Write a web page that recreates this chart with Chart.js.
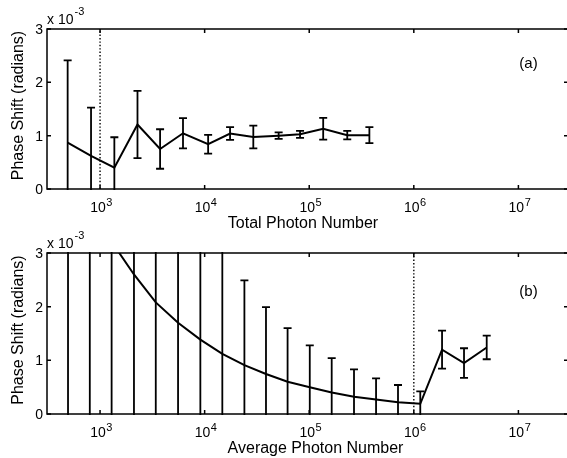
<!DOCTYPE html>
<html>
<head>
<meta charset="utf-8">
<script src="https://cdn.jsdelivr.net/npm/chart.js@4.4.1/dist/chart.umd.min.js"></script>
<style>
  html, body { margin: 0; padding: 0; background: #fff; overflow: hidden; }
  canvas { display: block; }
</style>
</head>
<body>
<canvas id="chart-a" width="575" height="229"></canvas>
<canvas id="chart-b" width="575" height="229"></canvas>
<script>
// ==========================================
// A. DATA  (phase shift in units of 1e-3 rad)
// ==========================================

// (a) vs total photon number
const totalPhotons = [490, 820, 1370, 2280, 3750, 6210, 10800, 17500, 29200, 51000, 81700, 136000, 231000, 376000];
const phaseA = [0.87, 0.62, 0.40, 1.21, 0.75, 1.045, 0.84, 1.04, 0.975, 1.00, 1.025, 1.13, 1.01, 1.01];
const errA   = [1.54, 0.905, 0.57, 0.63, 0.37, 0.285, 0.175, 0.12, 0.215, 0.06, 0.065, 0.205, 0.08, 0.15];

// (b) vs average photon number
const avgPhotons = [494, 798, 1290, 2110, 3410, 5570, 9100, 14760, 24000, 38600, 62100, 101200, 164000, 268000, 435500, 706000, 1153000, 1862000, 3020000, 4977000];
const phaseB = [4.89, 3.96, 3.21, 2.60, 2.08, 1.70, 1.385, 1.12, 0.91, 0.745, 0.60, 0.50, 0.40, 0.32, 0.27, 0.22, 0.19, 1.20, 0.95, 1.24];
const errB   = [8.5, 6.9, 5.6, 4.5, 3.6, 2.95, 2.4, 1.95, 1.58, 1.245, 1.0, 0.78, 0.64, 0.51, 0.395, 0.32, 0.23, 0.355, 0.275, 0.22];

// axes
const xTickExps = [3, 4, 5, 6, 7];
const yTicks = [0, 1, 2, 3];
const xMin = 311, xMax = 2.98e7;
const yMin = 0, yMax = 3;
const limitA = 1e3;   // dotted line in (a)
const limitB = 1e6;   // dotted line in (b)

const FONT = '"Liberation Sans", Arial, Helvetica, sans-serif';

// ==========================================
// B. PLUGINS (error bars + MATLAB style frame)
// ==========================================

const errorBarPlugin = {
    id: 'errorBars',
    afterDatasetsDraw(chart, args, opts) {
        const { ctx, chartArea: a, scales: { x, y } } = chart;
        ctx.save();
        ctx.beginPath();
        ctx.rect(a.left, a.top - 1, a.right - a.left, a.bottom - a.top + 2);
        ctx.clip();
        ctx.strokeStyle = '#000';
        ctx.lineWidth = 1.8;
        opts.xs.forEach((xv, i) => {
            const px = x.getPixelForValue(xv);
            const lo = y.getPixelForValue(opts.ys[i] - opts.errs[i]);
            const hi = y.getPixelForValue(opts.ys[i] + opts.errs[i]);
            ctx.beginPath();
            ctx.moveTo(px, lo); ctx.lineTo(px, hi);
            ctx.moveTo(px - 4, lo); ctx.lineTo(px + 4, lo);
            ctx.moveTo(px - 4, hi); ctx.lineTo(px + 4, hi);
            ctx.stroke();
        });
        ctx.restore();
    }
};

const framePlugin = {
    id: 'matlabFrame',
    afterDraw(chart, args, opts) {
        const { ctx, chartArea: a, scales: { x, y } } = chart;
        ctx.save();
        ctx.strokeStyle = '#000';
        ctx.fillStyle = '#000';
        ctx.lineWidth = 1.5;
        ctx.strokeRect(a.left, a.top, a.right - a.left, a.bottom - a.top);

        // inward ticks
        ctx.beginPath();
        xTickExps.forEach(e => {
            const px = x.getPixelForValue(Math.pow(10, e));
            ctx.moveTo(px, a.bottom); ctx.lineTo(px, a.bottom - 4);
            ctx.moveTo(px, a.top); ctx.lineTo(px, a.top + 4);
        });
        yTicks.forEach(v => {
            const py = y.getPixelForValue(v);
            ctx.moveTo(a.left, py); ctx.lineTo(a.left + 4, py);
            ctx.moveTo(a.right, py); ctx.lineTo(a.right - 4, py);
        });
        ctx.stroke();

        // y tick labels
        ctx.font = '14px ' + FONT;
        ctx.textAlign = 'right';
        ctx.textBaseline = 'middle';
        yTicks.forEach(v => ctx.fillText(String(v), a.left - 4, y.getPixelForValue(v) + 1));

        // x tick labels 10^n
        ctx.textBaseline = 'alphabetic';
        ctx.textAlign = 'left';
        xTickExps.forEach(e => {
            const px = x.getPixelForValue(Math.pow(10, e));
            ctx.font = '14px ' + FONT;
            const wb = ctx.measureText('10').width;
            ctx.font = '11px ' + FONT;
            const we = ctx.measureText(String(e)).width;
            const x0 = px - (wb + we) / 2 + 1;
            ctx.font = '14px ' + FONT;
            ctx.fillText('10', x0, a.bottom + 23);
            ctx.font = '11px ' + FONT;
            ctx.fillText(String(e), x0 + wb + 0.5, a.bottom + 17);
        });

        // multiplier x 10^-3
        ctx.font = '14px ' + FONT;
        ctx.fillText('x 10', a.left, a.top - 5);
        const wm = ctx.measureText('x 10').width;
        ctx.font = '11px ' + FONT;
        ctx.fillText('-3', a.left + wm + 1, a.top - 14);

        // axis titles
        ctx.font = '16px ' + FONT;
        ctx.textAlign = 'center';
        ctx.fillText(opts.xTitle, a.left + opts.xTitleDx, a.bottom + 38.5);
        ctx.save();
        ctx.translate(19, (a.top + a.bottom) / 2 - 3.5);
        ctx.rotate(-Math.PI / 2);
        ctx.textBaseline = 'middle';
        ctx.fillText('Phase Shift (radians)', 0, 0);
        ctx.restore();

        // panel tag
        ctx.font = '15px ' + FONT;
        ctx.textBaseline = 'middle';
        ctx.fillText(opts.tag, a.right - 39.5, a.top + opts.tagDy);
        ctx.restore();
    }
};

// ==========================================
// C. SETUP CHARTS
// ==========================================

function makePanel(canvasId, xs, ys, errs, limit, padding, frame) {
    const ctx = document.getElementById(canvasId).getContext('2d');
    return new Chart(ctx, {
        type: 'line',
        data: {
            datasets: [
                {
                    data: xs.map((xv, i) => ({ x: xv, y: ys[i] })),
                    borderColor: '#000', borderWidth: 2, pointRadius: 0, tension: 0, fill: false
                },
                {
                    data: [{ x: limit, y: yMin }, { x: limit, y: yMax }],
                    borderColor: '#000', borderWidth: 1.4, borderDash: [1.4, 2], pointRadius: 0, fill: false
                }
            ]
        },
        options: {
            responsive: false,
            animation: false,
            layout: { padding: padding },
            scales: {
                x: { type: 'logarithmic', min: xMin, max: xMax, display: false },
                y: { type: 'linear', min: yMin, max: yMax, display: false }
            },
            plugins: {
                legend: { display: false },
                tooltip: { enabled: false },
                errorBars: { xs: xs, ys: ys, errs: errs },
                matlabFrame: frame
            }
        },
        plugins: [errorBarPlugin, framePlugin]
    });
}

makePanel('chart-a', totalPhotons, phaseA, errA, limitA,
    { left: 47, top: 29, right: 7, bottom: 40 },
    { xTitle: 'Total Photon Number', xTitleDx: 256, tag: '(a)', tagDy: 35 });

makePanel('chart-b', avgPhotons, phaseB, errB, limitB,
    { left: 47, top: 24, right: 7, bottom: 44 },
    { xTitle: 'Average Photon Number', xTitleDx: 268.5, tag: '(b)', tagDy: 39 });
</script>
</body>
</html>
